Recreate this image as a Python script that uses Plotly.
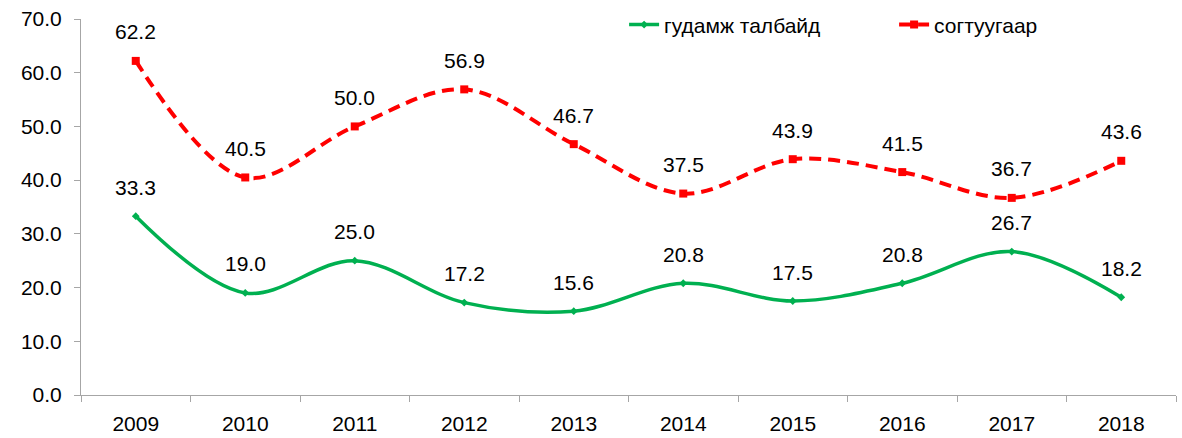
import plotly.graph_objects as go

years = ["2009", "2010", "2011", "2012", "2013", "2014", "2015", "2016", "2017", "2018"]
street = [33.3, 19.0, 25.0, 17.2, 15.6, 20.8, 17.5, 20.8, 26.7, 18.2]
drunk = [62.2, 40.5, 50.0, 56.9, 46.7, 37.5, 43.9, 41.5, 36.7, 43.6]

FONT = "Liberation Sans, Arial, sans-serif"
FS = 21
xpos = list(range(len(years)))

fig = go.Figure()

fig.add_trace(go.Scatter(
    x=xpos, y=street, name="гудамж талбайд",
    mode="lines+markers", line=dict(color="#00B050", width=3.5, shape="spline"),
    marker=dict(symbol="diamond", size=6, color="#00B050"),
))
fig.add_trace(go.Scatter(
    x=xpos, y=drunk, name="согтуугаар",
    mode="lines+markers", line=dict(color="#FF0000", width=4, dash="12px,7px", shape="spline"),
    marker=dict(symbol="square", size=8, color="#FF0000"),
))

# value labels above points
for series in (street, drunk):
    for xi, v in zip(xpos, series):
        fig.add_annotation(x=xi, y=v, xref="x", yref="y", text=f"{v:.1f}", showarrow=False,
                           yshift=29, font=dict(size=FS, color="black", family=FONT))

fig.update_layout(
    width=1182, height=438,
    margin=dict(l=81, r=6, t=19, b=43, autoexpand=False),
    plot_bgcolor="white", paper_bgcolor="white",
    font=dict(family=FONT, size=FS, color="black"),
    legend=dict(orientation="h", xref="container", yref="container",
                x=0.528, xanchor="left", y=0.943, yanchor="middle",
                font=dict(size=FS), bgcolor="rgba(0,0,0,0)",
                entrywidth=225, entrywidthmode="pixels"),
    xaxis=dict(range=[-0.5, 9.5], tickmode="array", tickvals=xpos, ticktext=years,
               showline=True, linecolor="#A6A6A6", ticks="", showgrid=False,
               zeroline=False, automargin=False, tickfont=dict(size=FS), ticklabelstandoff=10,
               minor=dict(tickmode="array", tickvals=[i - 0.5 for i in range(len(years) + 1)],
                          ticks="outside", ticklen=6, tickcolor="#A6A6A6", showgrid=False)),
    yaxis=dict(range=[0, 70], dtick=10, tickformat=".1f", showline=True, linecolor="#A6A6A6",
               ticks="outside", ticklen=6, tickcolor="#A6A6A6", showgrid=False,
               zeroline=False, automargin=False, tickfont=dict(size=FS), ticklabelstandoff=8),
)

fig.write_html("out.html", config={"displayModeBar": False},
               post_script="document.body.style.margin='0';")
